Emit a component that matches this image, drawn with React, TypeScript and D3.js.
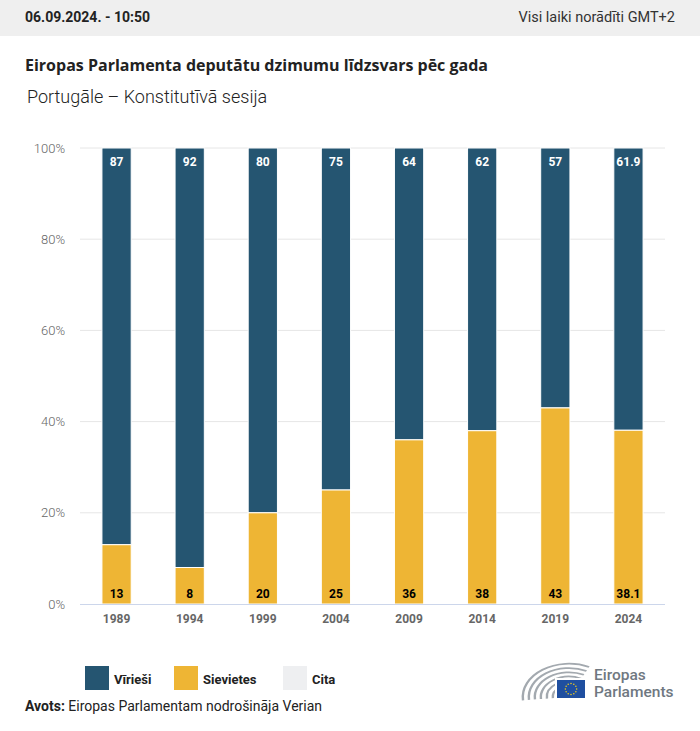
import React from "react";
import * as d3 from "d3";

const years = ["1989", "1994", "1999", "2004", "2009", "2014", "2019", "2024"];
const men = [87, 92, 80, 75, 64, 62, 57, 61.9];
const women = [13, 8, 20, 25, 36, 38, 43, 38.1];
const yTicks = [0, 20, 40, 60, 80, 100];
const legendItems = ["Vīrieši", "Sievietes", "Cita"];

const BLUE = "#255571";
const YELLOW = "#eeb534";
const OTHER = "#eeeff1";
const FONT = "Roboto, 'Noto Sans', sans-serif";

const W = 700;
const H = 731;

const x = d3
  .scaleBand<string>()
  .domain(years)
  .range([80, 665])
  .paddingInner(0.6)
  .paddingOuter(0.3);

const y = d3.scaleLinear().domain([0, 100]).range([604, 148]);

// EP logo: hemicycle rows, flag and wordmark
const Logo: React.FC = () => {
  const cx = 569;
  const cy = 697;
  const rows = d3.range(6).map((i) => 15 + i * 6);
  const arc = d3.arc();
  const starAngles = d3.range(12).map((i) => (i * Math.PI * 2) / 12);
  return (
    <g>
      {rows.map((r, i) => (
        <path
          key={i}
          d={
            arc({
              innerRadius: r,
              outerRadius: r + 2.4,
              startAngle: -Math.PI / 2 - 0.1,
              endAngle: 0.45,
            }) || ""
          }
          transform={`translate(${cx},${cy}) scale(1,0.72)`}
          fill="#a3a9af"
        />
      ))}
      <rect x={555} y={678} width={31} height={21} fill="#fff" />
      <rect x={557} y={680} width={28} height={18} fill="#1f4fa0" />
      {starAngles.map((a, i) => (
        <circle
          key={i}
          cx={571 + Math.sin(a) * 5.6}
          cy={689 - Math.cos(a) * 5.6}
          r={0.75}
          fill="#f7d117"
        />
      ))}
      <text x={594} y={680} fontFamily={FONT} fontSize={15.5} fontWeight={500} fill="#6f7881">
        Eiropas
      </text>
      <text x={594} y={697} fontFamily={FONT} fontSize={15.5} fontWeight={500} fill="#6f7881">
        Parlaments
      </text>
    </g>
  );
};

export default function App() {
  const bw = x.bandwidth();
  return (
    <svg
      width={W}
      height={H}
      style={{ position: "absolute", left: 0, top: 0, background: "#fff" }}
      fontFamily={FONT}
    >
      <rect x={0} y={0} width={W} height={36} fill="#efefef" />
      <text x={25} y={22} fontSize={14} fontWeight={700} fill="#222">
        06.09.2024. - 10:50
      </text>
      <text x={675} y={22} fontSize={14.5} textAnchor="end" fill="#333">
        Visi laiki norādīti GMT+2
      </text>
      <text
        x={25}
        y={71}
        fontSize={16}
        fontWeight={700}
        fill="#222"
        fontFamily="'Open Sans', sans-serif"
      >
        Eiropas Parlamenta deputātu dzimumu līdzsvars pēc gada
      </text>
      <text x={27} y={103} fontSize={18} fontWeight={300} fill="#222">
        Portugāle – Konstitutīvā sesija
      </text>

      {yTicks.map((t) => (
        <g key={t}>
          {t > 0 && (
            <line x1={80} x2={665} y1={y(t)} y2={y(t)} stroke="#e6e6e6" strokeWidth={1} />
          )}
          <text
            x={65}
            y={y(t)}
            dy="0.35em"
            textAnchor="end"
            fontSize={13}
            fontWeight={300}
            fill="#666"
          >
            {t}%
          </text>
        </g>
      ))}

      {years.map((yr, i) => {
        const x0 = x(yr) ?? 0;
        const cx = x0 + bw / 2;
        return (
          <g key={yr}>
            <rect
              x={x0}
              y={y(100)}
              width={bw}
              height={y(women[i]) - y(100)}
              fill={BLUE}
              stroke="#fff"
              strokeWidth={1}
            />
            <rect
              x={x0}
              y={y(women[i])}
              width={bw}
              height={y(0) - y(women[i])}
              fill={YELLOW}
              stroke="#fff"
              strokeWidth={1}
            />
            <text
              x={cx}
              y={y(100) + 18}
              textAnchor="middle"
              fontSize={12}
              fontWeight={700}
              fill="#fff"
            >
              {men[i]}
            </text>
            <text
              x={cx}
              y={y(0) - 6}
              textAnchor="middle"
              fontSize={12}
              fontWeight={700}
              fill="#000"
            >
              {women[i]}
            </text>
            <text
              x={cx}
              y={623}
              textAnchor="middle"
              fontSize={12}
              fontWeight={700}
              fill="#666"
            >
              {yr}
            </text>
          </g>
        );
      })}
      <line x1={80} x2={665} y1={y(0) + 0.5} y2={y(0) + 0.5} stroke="#ccd6eb" strokeWidth={1} />

      {legendItems.map((name, i) => {
        const lx = [85, 174, 283][i];
        return (
          <g key={name}>
            <rect x={lx} y={666} width={24} height={24} fill={[BLUE, YELLOW, OTHER][i]} />
            <text x={lx + 29} y={684} fontSize={13} fontWeight={700} fill="#222">
              {name}
            </text>
          </g>
        );
      })}

      <text x={25} y={711} fontSize={14} fill="#222">
        <tspan fontWeight={700}>Avots:</tspan> Eiropas Parlamentam nodrošināja Verian
      </text>

      <Logo />
    </svg>
  );
}
